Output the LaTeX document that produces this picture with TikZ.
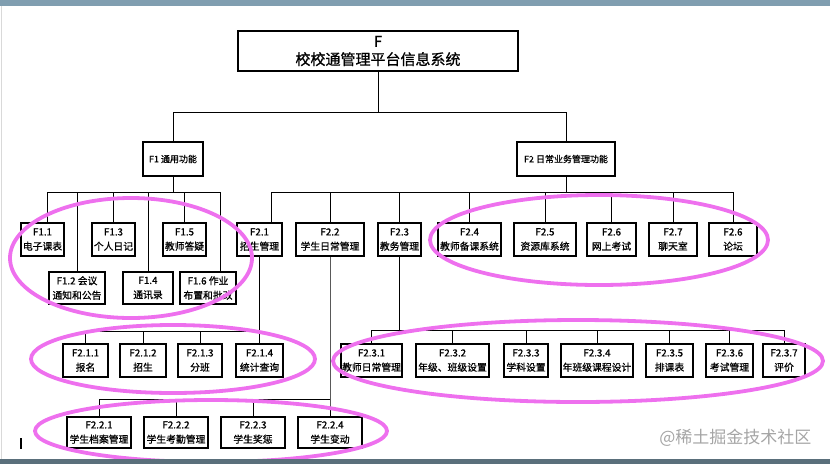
\documentclass[tikz,border=0pt]{standalone}
\usepackage{fontspec}
\newfontfamily\cjk{Noto Sans CJK SC}[FakeBold=0.8]
\newfontfamily\cjkmark{Noto Sans CJK SC}
\usepackage{tikz}
\usetikzlibrary{positioning}
\definecolor{ringpink}{RGB}{238,112,238}
\definecolor{bandblue}{RGB}{128,158,176}
\definecolor{markgray}{RGB}{165,165,165}

\begin{document}
\begin{tikzpicture}[x=1pt, y=-1pt,
        box/.style={draw, rectangle, line width=1.3pt, inner sep=1pt, align=center,
            font=\cjk\fontsize{9.8}{14.5}\selectfont, minimum height=33},
        link/.style={line width=1pt},
        ring/.style={draw=ringpink, line width=3.8pt}]
        \useasboundingbox (0,0) rectangle (830,464);

        % Screen bands
        \fill[bandblue] (0,0) rectangle (830,6);
        \draw[gray!30, line width=1pt] (1,6) -- (1,460);

        % System
        \node[box, minimum width=280, minimum height=40, font=\cjk\fontsize{15}{18}\selectfont] (F) at (378,51) {F\\校校通管理平台信息系统};

        % Main functions
        \node[box, minimum width=60, minimum height=34, font=\cjk\fontsize{9}{11}\selectfont] (F1) at (173,159) {F1 通用功能};
        \node[box, minimum width=98, minimum height=34, font=\cjk\fontsize{9}{11}\selectfont] (F2) at (566,159) {F2 日常业务管理功能};

        % Common functions
        \node[box, minimum width=43] (F11) at (42.5,239.5) {F1.1\\电子课表};
        \node[box, minimum width=43] (F13) at (113.5,239.5) {F1.3\\个人日记};
        \node[box, minimum width=43] (F15) at (184.5,239.5) {F1.5\\教师答疑};
        \node[box, minimum width=56, minimum height=32] (F12) at (77,288) {F1.2 会议\\通知和公告};
        \node[box, minimum width=50, minimum height=32] (F14) at (148,288) {F1.4\\通讯录};
        \node[box, minimum width=56, minimum height=32] (F16) at (208,288) {F1.6 作业\\布置和批改};

        % Daily business
        \node[box, minimum width=45] (F21) at (259.5,239.5) {F2.1\\招生管理};
        \node[box, minimum width=68] (F22) at (330,239.5) {F2.2\\学生日常管理};
        \node[box, minimum width=43] (F23) at (399.5,239.5) {F2.3\\教务管理};
        \node[box, minimum width=63] (F24) at (469.5,239.5) {F2.4\\教师备课系统};
        \node[box, minimum width=62] (F25) at (545,239.5) {F2.5\\资源库系统};
        \node[box, minimum width=49] (F26) at (611.5,239.5) {F2.6\\网上考试};
        \node[box, minimum width=48] (F27) at (673,239.5) {F2.7\\聊天室};
        \node[box, minimum width=48] (F28) at (733,239.5) {F2.6\\论坛};

        % Enrolment
        \node[box, minimum width=45] (F211) at (85.5,360.5) {F2.1.1\\报名};
        \node[box, minimum width=46] (F212) at (143,360.5) {F2.1.2\\招生};
        \node[box, minimum width=44] (F213) at (200,360.5) {F2.1.3\\分班};
        \node[box, minimum width=47] (F214) at (259.5,360.5) {F2.1.4\\统计查询};

        % Student affairs
        \node[box, minimum width=64, minimum height=31] (F221) at (99,432.5) {F2.2.1\\学生档案管理};
        \node[box, minimum width=64, minimum height=31] (F222) at (176,432.5) {F2.2.2\\学生考勤管理};
        \node[box, minimum width=64, minimum height=31] (F223) at (253,432.5) {F2.2.3\\学生奖惩};
        \node[box, minimum width=64, minimum height=31] (F224) at (330,432.5) {F2.2.4\\学生变动};

        % Teaching affairs
        \node[box, minimum width=61] (F231) at (371.5,360.5) {F2.3.1\\教师日常管理};
        \node[box, minimum width=73] (F232) at (452.5,360.5) {F2.3.2\\年级、班级设置};
        \node[box, minimum width=44] (F233) at (526,360.5) {F2.3.3\\学科设置};
        \node[box, minimum width=72] (F234) at (597,360.5) {F2.3.4\\年班级课程设计};
        \node[box, minimum width=47] (F235) at (669.5,360.5) {F2.3.5\\排课表};
        \node[box, minimum width=47] (F236) at (729.5,360.5) {F2.3.6\\考试管理};
        \node[box, minimum width=42] (F237) at (784,360.5) {F2.3.7\\评价};

        % Relationships
        \draw[link] (F.south) -- ++(0,41) coordinate (b0);
        \draw[link] (b0) -| (F1.north);
        \draw[link] (b0) -| (F2.north);

        \draw[link] (F1.south) -- ++(0,16) coordinate (b1);
        \draw[link] (b1) -| ([xshift=5]F11.north);
        \foreach \n in {F12,F13,F14,F15}
            \draw[link] (b1) -| (\n.north);
        \draw[link] (b1) -| ([xshift=12]F16.north);

        \draw[link] (F2.south) -- ++(0,16) coordinate (b2);
        \draw[link] (b2) -| ([xshift=12]F21.north);
        \foreach \n in {F22,F23,F24,F25,F26,F27,F28}
            \draw[link] (b2) -| (\n.north);

        \draw[link] (F21.south) -- ++(0,75) coordinate (b21) -- (F214.north);
        \foreach \n in {F211,F212,F213}
            \draw[link] (b21) -| (\n.north);

        \draw[link] (F22.south) -- ++(0,143) coordinate (b22) -- (F224.north);
        \foreach \n in {F221,F222,F223}
            \draw[link] (b22) -| (\n.north);

        \draw[link] (F23.south) -- ++(0,74) coordinate (b23);
        \foreach \n in {F231,F232,F233,F234,F235,F236,F237}
            \draw[link] (b23) -| (\n.north);

        % Marked groups
        \draw[ring] (131,258) ellipse [x radius=121pt, y radius=60pt];
        \draw[ring] (599,240) ellipse [x radius=169pt, y radius=45pt];
        \draw[ring] (173,359) ellipse [x radius=142pt, y radius=34pt];
        \draw[ring] (211,431) ellipse [x radius=176pt, y radius=31pt];
        \draw[ring] (578,361) ellipse [x radius=245pt, y radius=41pt];

        % Cursor and watermark
        \draw[line width=1.5pt] (21,438) -- (21,449);
        \node[font=\cjkmark\fontsize{17}{17}\selectfont, text=markgray, anchor=east] (mark) at (815,438) {@稀土掘金技术社区};
        \fill[bandblue!70!black] (0,459) rectangle (830,464);
\end{tikzpicture}
\end{document}
